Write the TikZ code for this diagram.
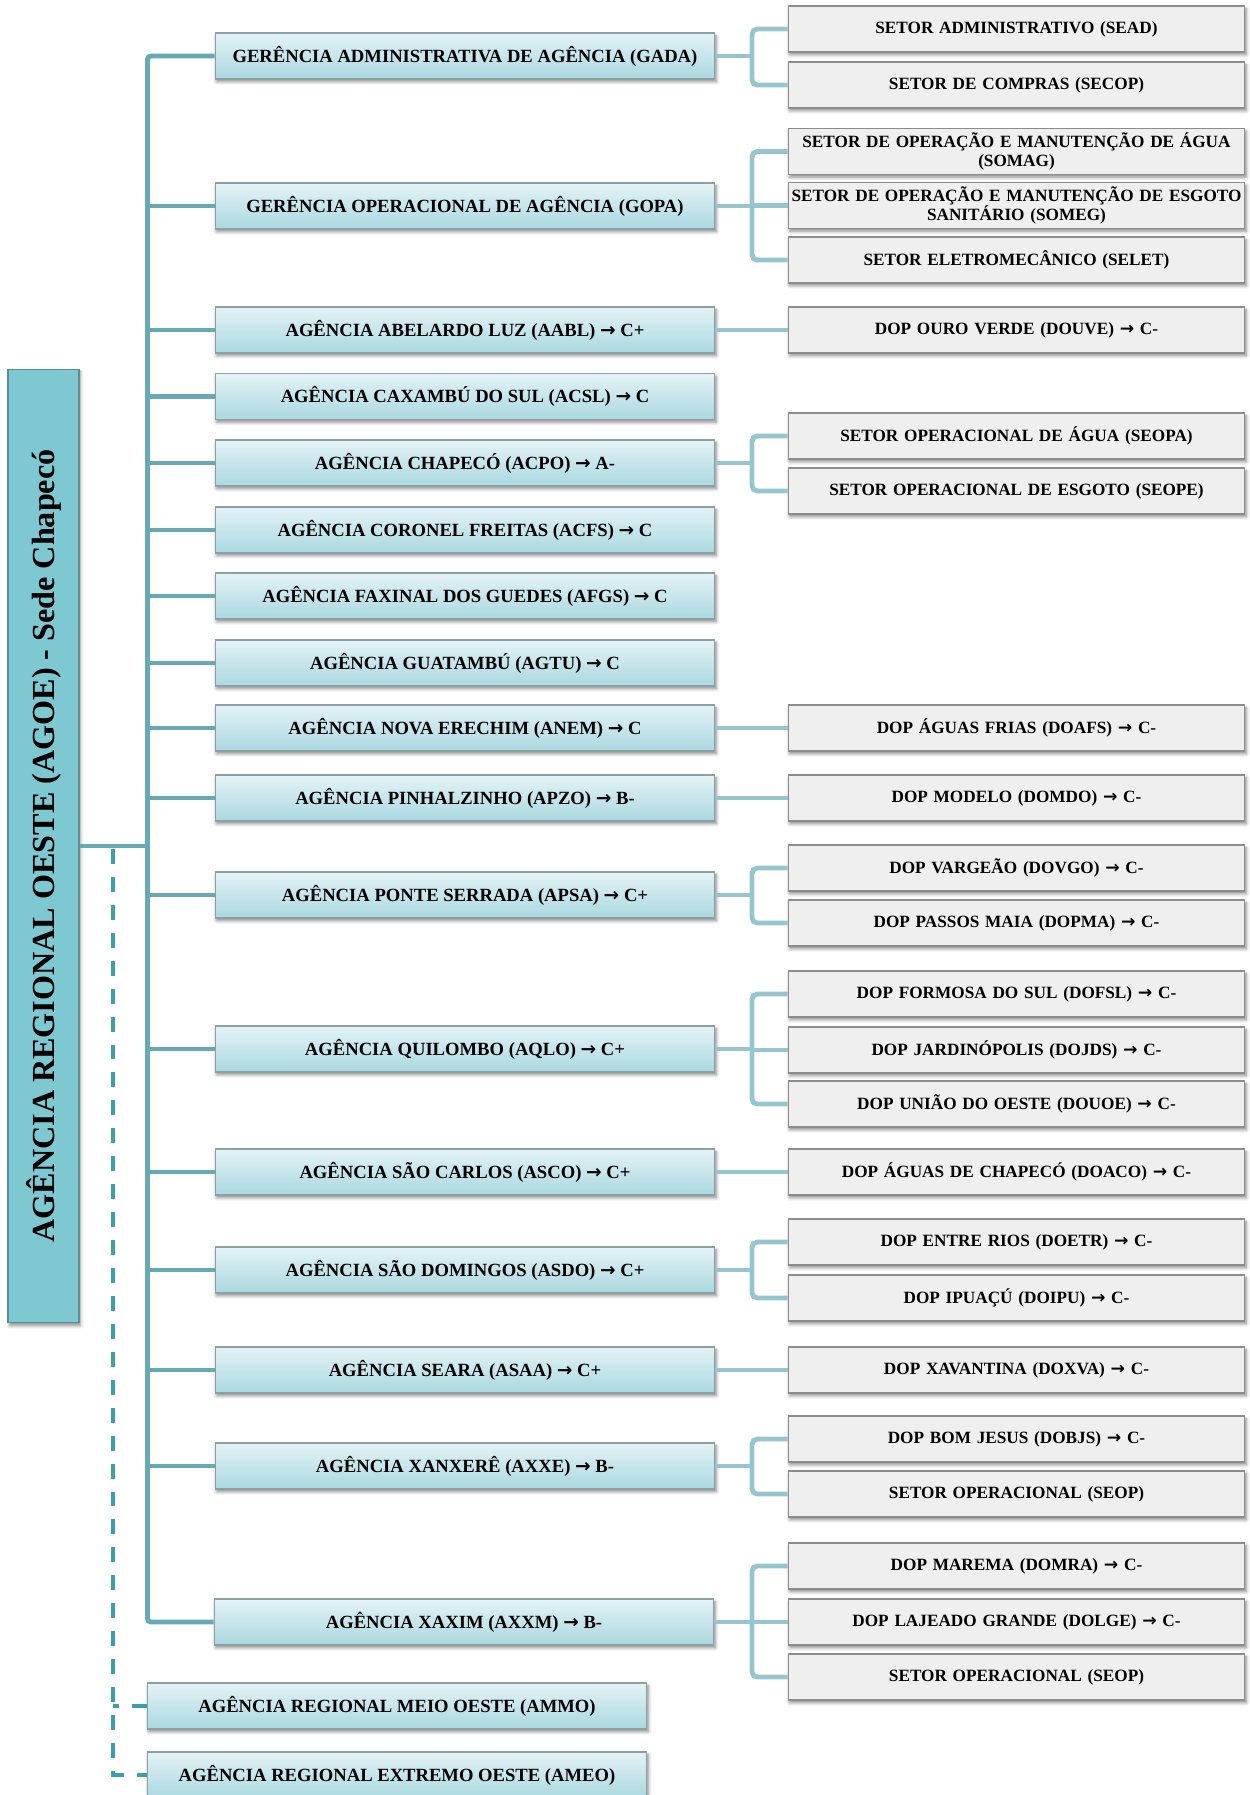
\documentclass[tikz,border=0pt]{standalone}
\usepackage{fontspec}
\setmainfont{Liberation Serif}
\newfontfamily\arrowfont{DejaVu Sans}
\newcommand\seta{{\arrowfont\bfseries →}}
\usetikzlibrary{shadows.blur}
\definecolor{rootfill}{RGB}{126,200,210}
\definecolor{rootline}{RGB}{92,140,150}
\definecolor{agtop}{RGB}{228,243,246}
\definecolor{agbot}{RGB}{170,216,224}
\definecolor{agline}{RGB}{140,160,164}
\definecolor{setfill}{RGB}{239,239,239}
\definecolor{setline}{RGB}{140,140,140}
\definecolor{trunkc}{RGB}{103,170,181}
\definecolor{twigc}{RGB}{150,197,205}
\definecolor{dashc}{RGB}{58,158,173}
\tikzset{
  agbox/.style={draw=agline,line width=0.6pt,top color=agtop,bottom color=agbot,
    minimum width=10cm,minimum height=0.92cm,inner sep=0pt,
    font=\fontsize{10.6}{12}\selectfont\bfseries,
    blur shadow={shadow xshift=0.8pt,shadow yshift=-1.6pt,shadow blur steps=5,shadow opacity=45}},
  setbox/.style={draw=setline,line width=0.6pt,fill=setfill,
    minimum width=9.14cm,minimum height=0.92cm,inner sep=0pt,text width=9.12cm,align=center,
    font=\fontsize{9.8}{11.2}\selectfont\bfseries,
    blur shadow={shadow xshift=0.8pt,shadow yshift=-1.6pt,shadow blur steps=5,shadow opacity=45}},
  trunk/.style={draw=trunkc,line width=2.8pt},
  twig/.style={draw=twigc,line width=2.8pt,rounded corners=3pt},
  regdash/.style={draw=dashc,line width=2.3pt,dash pattern=on 8.5pt off 7.4pt},
}
\begin{document}
\begin{tikzpicture}[x=0.02cm,y=-0.02cm]
\useasboundingbox (0,0) rectangle (1250,1795);
% sede
\node[draw=rootline,line width=0.6pt,fill=rootfill,minimum width=1.42cm,minimum height=19.08cm,inner sep=0pt,
  blur shadow={shadow xshift=0.8pt,shadow yshift=-1.6pt,shadow blur steps=5,shadow opacity=45}]
  (agoe) at (43.5,846) {};
\node[rotate=90,font=\fontsize{18.3}{20}\selectfont\bfseries] (agoet) at (agoe.center) {AGÊNCIA REGIONAL OESTE (AGOE) - Sede Chapecó};
% agencias e gerencias
\node[agbox] (gada) at (465,56) {GERÊNCIA ADMINISTRATIVA DE AGÊNCIA (GADA)};
\node[agbox] (gopa) at (465,206) {GERÊNCIA OPERACIONAL DE AGÊNCIA (GOPA)};
\node[agbox] (aabl) at (465,330) {AGÊNCIA ABELARDO LUZ (AABL) \seta{} C+};
\node[agbox] (acsl) at (465,396.5) {AGÊNCIA CAXAMBÚ DO SUL (ACSL) \seta{} C};
\node[agbox] (acpo) at (465,463) {AGÊNCIA CHAPECÓ (ACPO) \seta{} A-};
\node[agbox] (acfs) at (465,530) {AGÊNCIA CORONEL FREITAS (ACFS) \seta{} C};
\node[agbox] (afgs) at (465,596) {AGÊNCIA FAXINAL DOS GUEDES (AFGS) \seta{} C};
\node[agbox] (agtu) at (465,663) {AGÊNCIA GUATAMBÚ (AGTU) \seta{} C};
\node[agbox] (anem) at (465,728) {AGÊNCIA NOVA ERECHIM (ANEM) \seta{} C};
\node[agbox] (apzo) at (465,798) {AGÊNCIA PINHALZINHO (APZO) \seta{} B-};
\node[agbox] (apsa) at (465,895) {AGÊNCIA PONTE SERRADA (APSA) \seta{} C+};
\node[agbox] (aqlo) at (465,1049) {AGÊNCIA QUILOMBO (AQLO) \seta{} C+};
\node[agbox] (asco) at (465,1172) {AGÊNCIA SÃO CARLOS (ASCO) \seta{} C+};
\node[agbox] (asdo) at (465,1270) {AGÊNCIA SÃO DOMINGOS (ASDO) \seta{} C+};
\node[agbox] (asaa) at (465,1370) {AGÊNCIA SEARA (ASAA) \seta{} C+};
\node[agbox] (axxe) at (465,1466) {AGÊNCIA XANXERÊ (AXXE) \seta{} B-};
\node[agbox] (axxm) at (464,1622) {AGÊNCIA XAXIM (AXXM) \seta{} B-};
\node[agbox] (ammo) at (397,1706) {AGÊNCIA REGIONAL MEIO OESTE (AMMO)};
\node[agbox] (ameo) at (397,1775) {AGÊNCIA REGIONAL EXTREMO OESTE (AMEO)};
% setores e dops
\node[setbox] (sead) at (1016.5,29) {SETOR ADMINISTRATIVO (SEAD)};
\node[setbox] (secop) at (1016.5,85) {SETOR DE COMPRAS (SECOP)};
\node[setbox] (somag) at (1016.5,151.5) {SETOR DE OPERAÇÃO E MANUTENÇÃO DE ÁGUA\\(SOMAG)};
\node[setbox] (someg) at (1016.5,205.5) {SETOR DE OPERAÇÃO E MANUTENÇÃO DE ESGOTO\\SANITÁRIO (SOMEG)};
\node[setbox] (selet) at (1016.5,260) {SETOR ELETROMECÂNICO (SELET)};
\node[setbox] (douve) at (1016.5,330) {DOP OURO VERDE (DOUVE) \seta{} C-};
\node[setbox] (seopa) at (1016.5,436) {SETOR OPERACIONAL DE ÁGUA (SEOPA)};
\node[setbox] (seope) at (1016.5,491) {SETOR OPERACIONAL DE ESGOTO (SEOPE)};
\node[setbox] (doafs) at (1016.5,728) {DOP ÁGUAS FRIAS (DOAFS) \seta{} C-};
\node[setbox] (domdo) at (1016.5,798) {DOP MODELO (DOMDO) \seta{} C-};
\node[setbox] (dovgo) at (1016.5,868) {DOP VARGEÃO (DOVGO) \seta{} C-};
\node[setbox] (dopma) at (1016.5,923) {DOP PASSOS MAIA (DOPMA) \seta{} C-};
\node[setbox] (dofsl) at (1016.5,994) {DOP FORMOSA DO SUL (DOFSL) \seta{} C-};
\node[setbox] (dojds) at (1016.5,1050) {DOP JARDINÓPOLIS (DOJDS) \seta{} C-};
\node[setbox] (douoe) at (1016.5,1104) {DOP UNIÃO DO OESTE (DOUOE) \seta{} C-};
\node[setbox] (doaco) at (1016.5,1172) {DOP ÁGUAS DE CHAPECÓ (DOACO) \seta{} C-};
\node[setbox] (doetr) at (1016.5,1242) {DOP ENTRE RIOS (DOETR) \seta{} C-};
\node[setbox] (doipu) at (1016.5,1298) {DOP IPUAÇÚ (DOIPU) \seta{} C-};
\node[setbox] (doxva) at (1016.5,1370) {DOP XAVANTINA (DOXVA) \seta{} C-};
\node[setbox] (dobjs) at (1016.5,1439) {DOP BOM JESUS (DOBJS) \seta{} C-};
\node[setbox] (seopx) at (1016.5,1494) {SETOR OPERACIONAL (SEOP)};
\node[setbox] (domra) at (1016.5,1566) {DOP MAREMA (DOMRA) \seta{} C-};
\node[setbox] (dolge) at (1016.5,1622) {DOP LAJEADO GRANDE (DOLGE) \seta{} C-};
\node[setbox] (seopy) at (1016.5,1677) {SETOR OPERACIONAL (SEOP)};
% tronco
\coordinate (sp) at (147.5,846);
\coordinate (dx) at (113,849);
\coordinate (bx) at (752,0);
\draw[trunk] (agoe.east) -- (sp);
\draw[trunk,rounded corners=2pt] (gada.west) -| (sp) |- (axxm.west);
\draw[trunk] (gopa.west) -- (sp |- gopa.west);
\draw[trunk] (aabl.west) -- (sp |- aabl.west);
\draw[trunk] (acsl.west) -- (sp |- acsl.west);
\draw[trunk] (acpo.west) -- (sp |- acpo.west);
\draw[trunk] (acfs.west) -- (sp |- acfs.west);
\draw[trunk] (afgs.west) -- (sp |- afgs.west);
\draw[trunk] (agtu.west) -- (sp |- agtu.west);
\draw[trunk] (anem.west) -- (sp |- anem.west);
\draw[trunk] (apzo.west) -- (sp |- apzo.west);
\draw[trunk] (apsa.west) -- (sp |- apsa.west);
\draw[trunk] (aqlo.west) -- (sp |- aqlo.west);
\draw[trunk] (asco.west) -- (sp |- asco.west);
\draw[trunk] (asdo.west) -- (sp |- asdo.west);
\draw[trunk] (asaa.west) -- (sp |- asaa.west);
\draw[trunk] (axxe.west) -- (sp |- axxe.west);
% outras regionais
\draw[regdash] (dx) |- (ameo.west);
\draw[regdash] (ammo.west) -- (dx |- ammo.west);
% ramos
\draw[twig] (gada.east) -- (bx |- gada.east);
\draw[twig] (sead.west) -- (bx |- sead.west) |- (secop.west);
\draw[twig] (gopa.east) -- (bx |- gopa.east);
\draw[twig] (somag.west) -- (bx |- somag.west) |- (selet.west);
\draw[twig] (someg.west) -- (bx |- someg.west);
\draw[twig] (aabl.east) -- (douve.west);
\draw[twig] (acpo.east) -- (bx |- acpo.east);
\draw[twig] (seopa.west) -- (bx |- seopa.west) |- (seope.west);
\draw[twig] (anem.east) -- (doafs.west);
\draw[twig] (apzo.east) -- (domdo.west);
\draw[twig] (apsa.east) -- (bx |- apsa.east);
\draw[twig] (dovgo.west) -- (bx |- dovgo.west) |- (dopma.west);
\draw[twig] (aqlo.east) -- (bx |- aqlo.east);
\draw[twig] (dofsl.west) -- (bx |- dofsl.west) |- (douoe.west);
\draw[twig] (dojds.west) -- (bx |- dojds.west);
\draw[twig] (asco.east) -- (doaco.west);
\draw[twig] (asdo.east) -- (bx |- asdo.east);
\draw[twig] (doetr.west) -- (bx |- doetr.west) |- (doipu.west);
\draw[twig] (asaa.east) -- (doxva.west);
\draw[twig] (axxe.east) -- (bx |- axxe.east);
\draw[twig] (dobjs.west) -- (bx |- dobjs.west) |- (seopx.west);
\draw[twig] (axxm.east) -- (bx |- axxm.east);
\draw[twig] (domra.west) -- (bx |- domra.west) |- (seopy.west);
\draw[twig] (dolge.west) -- (bx |- dolge.west);
\end{tikzpicture}
\end{document}
